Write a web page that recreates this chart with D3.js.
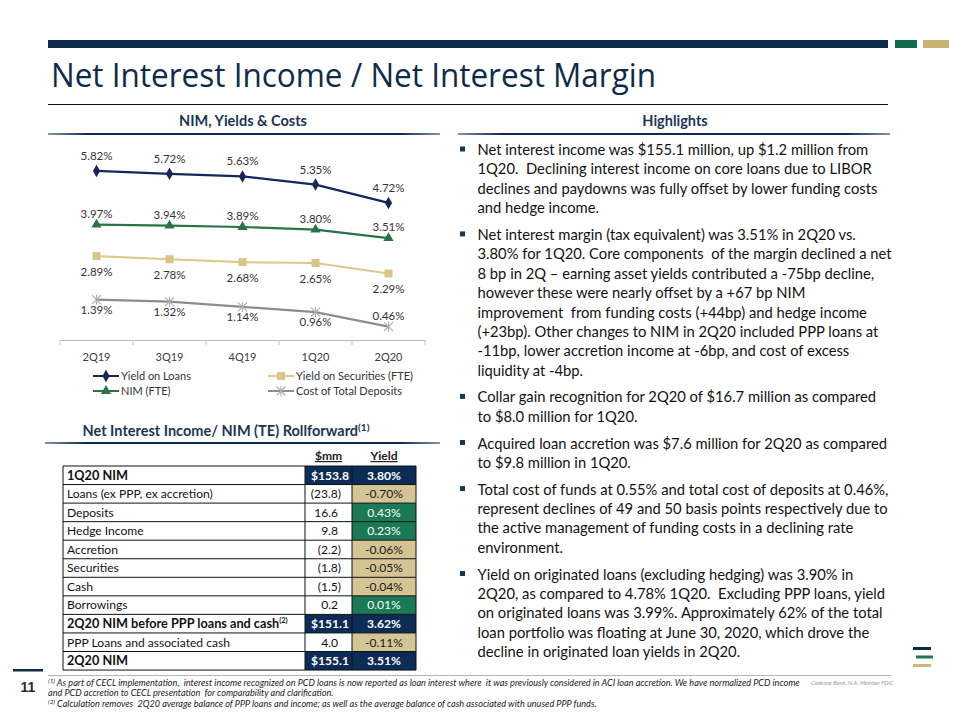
<!DOCTYPE html>
<html><head><meta charset="utf-8">
<script src="https://cdn.jsdelivr.net/npm/d3@7"></script>
<style>body{margin:0;background:#fff} svg{display:block} text{white-space:pre}</style>
</head><body>
<script>
// ---------- DATA ----------
const quarters = ["2Q19", "3Q19", "4Q19", "1Q20", "2Q20"];
const yieldOnLoans = [5.82, 5.72, 5.63, 5.35, 4.72];
const nimFTE = [3.97, 3.94, 3.89, 3.80, 3.51];
const yieldOnSecurities = [2.89, 2.78, 2.68, 2.65, 2.29];
const costOfDeposits = [1.39, 1.32, 1.14, 0.96, 0.46];
const seriesNames = ["Yield on Loans", "NIM (FTE)", "Yield on Securities (FTE)", "Cost of Total Deposits"];

const rollLabels = ["1Q20 NIM", "Loans (ex PPP, ex accretion)", "Deposits", "Hedge Income", "Accretion",
  "Securities", "Cash", "Borrowings", "2Q20 NIM before PPP loans and cash", "PPP Loans and associated cash", "2Q20 NIM"];
const rollMM = [153.8, -23.8, 16.6, 9.8, -2.2, -1.8, -1.5, 0.2, 151.1, 4.0, 155.1];
const rollYield = [3.80, -0.70, 0.43, 0.23, -0.06, -0.05, -0.04, 0.01, 3.62, -0.11, 3.51];
const rollTotals = [true, false, false, false, false, false, false, false, true, false, true];
const rollHeaders = ["$mm", "Yield"];

const highlights = [
  ["Net interest income was $155.1 million, up $1.2 million from",
   "1Q20.  Declining interest income on core loans due to LIBOR",
   "declines and paydowns was fully offset by lower funding costs",
   "and hedge income."],
  ["Net interest margin (tax equivalent) was 3.51% in 2Q20 vs.",
   "3.80% for 1Q20. Core components  of the margin declined a net",
   "8 bp in 2Q – earning asset yields contributed a -75bp decline,",
   "however these were nearly offset by a +67 bp NIM",
   "improvement  from funding costs (+44bp) and hedge income",
   "(+23bp). Other changes to NIM in 2Q20 included PPP loans at",
   "-11bp, lower accretion income at -6bp, and cost of excess",
   "liquidity at -4bp."],
  ["Collar gain recognition for 2Q20 of $16.7 million as compared",
   "to $8.0 million for 1Q20."],
  ["Acquired loan accretion was $7.6 million for 2Q20 as compared",
   "to $9.8 million in 1Q20."],
  ["Total cost of funds at 0.55% and total cost of deposits at 0.46%,",
   "represent declines of 49 and 50 basis points respectively due to",
   "the active management of funding costs in a declining rate",
   "environment."],
  ["Yield on originated loans (excluding hedging) was 3.90% in",
   "2Q20, as compared to 4.78% 1Q20.  Excluding PPP loans, yield",
   "on originated loans was 3.99%. Approximately 62% of the total",
   "loan portfolio was floating at June 30, 2020, which drove the",
   "decline in originated loan yields in 2Q20."]
];
const footnotes = [
  ["(1)", " As part of CECL implementation,  interest income recognized on PCD loans is now reported as loan interest where  it was previously considered in ACI loan accretion. We have normalized PCD income"],
  ["", "and PCD accretion to CECL presentation  for comparability and clarification."],
  ["(2)", " Calculation removes  2Q20 average balance of PPP loans and income; as well as the average balance of cash associated with unused PPP funds."]
];

// ---------- STYLE ----------
const NAVY = "#0c2c56", GREEN = "#1a7a55", TAN = "#d6c594";
const BODY = "Lato, 'Open Sans', sans-serif";

const svg = d3.select("body").append("svg").attr("width", 960).attr("height", 720);

function fitSize(text, family, weight, style, target, base) {
  const t = svg.append("text").attr("font-family", family).attr("font-weight", weight)
    .attr("font-style", style).attr("font-size", base).text(text);
  const w = t.node().getComputedTextLength();
  t.remove();
  return base * target / w;
}

// ---------- HEADER ----------
svg.append("rect").attr("x", 48).attr("y", 40).attr("width", 840).attr("height", 8).attr("fill", "#0d2b4b");
svg.append("rect").attr("x", 895).attr("y", 40).attr("width", 22).attr("height", 8).attr("fill", "#0f6a4e");
svg.append("rect").attr("x", 923).attr("y", 40).attr("width", 26).attr("height", 8).attr("fill", "#c8b370");
svg.append("text").attr("x", 51).attr("y", 87).attr("font-family", "'Open Sans', sans-serif")
  .attr("font-size", 33).attr("fill", "#0d2b4b").attr("textLength", 605).attr("lengthAdjust", "spacingAndGlyphs")
  .text("Net Interest Income / Net Interest Margin");
svg.append("line").attr("x1", 48).attr("x2", 888).attr("y1", 104.5).attr("y2", 104.5).attr("stroke", "#111").attr("stroke-width", 1);

// section headers
const grad = svg.append("defs").append("linearGradient").attr("id", "ul");
grad.append("stop").attr("offset", "0%").attr("stop-color", NAVY).attr("stop-opacity", 0.5);
grad.append("stop").attr("offset", "10%").attr("stop-color", NAVY).attr("stop-opacity", 1);
grad.append("stop").attr("offset", "90%").attr("stop-color", NAVY).attr("stop-opacity", 1);
grad.append("stop").attr("offset", "100%").attr("stop-color", NAVY).attr("stop-opacity", 0.5);
function sectionHeader(txt, cx, y, x1, x2, ly, sup) {
  const t = svg.append("text").attr("x", cx).attr("y", y).attr("text-anchor", "middle")
    .attr("font-family", BODY).attr("font-weight", 700).attr("font-size", 14.5).attr("fill", "#1b3555").text(txt);
  if (sup) t.append("tspan").attr("font-size", 10).attr("dy", -5).text(sup);
  svg.append("rect").attr("x", x1).attr("y", ly).attr("width", x2 - x1).attr("height", 2).attr("fill", "url(#ul)");
}
sectionHeader("NIM, Yields & Costs", 243, 126, 48, 440, 133);
sectionHeader("Highlights", 675, 126, 458, 890, 133);
sectionHeader("Net Interest Income/ NIM (TE) Rollforward", 226, 436, 45, 440, 442, "(1)");

// ---------- LINE CHART ----------
const x = d3.scaleBand().domain(quarters).range([60, 425]);
const y = d3.scaleLinear().domain([0, 7]).range([340, 340 - 7 * 29.05]);
const cx = q => x(q) + x.bandwidth() / 2;

const axisG = svg.append("g").attr("transform", "translate(0,340)")
  .call(d3.axisBottom(x).tickSize(0).tickPadding(13));
axisG.select(".domain").attr("stroke", "#bfbfbf");
axisG.selectAll("text").attr("font-family", BODY).attr("font-size", 11).attr("fill", "#404040");
axisG.selectAll(".btick").data(d3.range(quarters.length + 1)).join("line")
  .attr("x1", i => 60 + i * x.step()).attr("x2", i => 60 + i * x.step())
  .attr("y1", 0).attr("y2", 5).attr("stroke", "#bfbfbf");

const series = [
  { name: seriesNames[0], vals: yieldOnLoans, color: "#13275a", mcolor: "#13275a", marker: "diamond", pos: () => "above" },
  { name: seriesNames[1], vals: nimFTE, color: "#2a7348", mcolor: "#2a7348", marker: "triangle", pos: () => "above" },
  { name: seriesNames[2], vals: yieldOnSecurities, color: "#dccb8e", mcolor: "#d8c587", marker: "square", pos: () => "below" },
  { name: seriesNames[3], vals: costOfDeposits, color: "#8d8d8d", mcolor: "#b0b0b0", marker: "star",
    pos: (i, n) => i === n - 1 ? "above" : "below" }
];

function drawMarker(g, type, color, mx, my) {
  if (type === "diamond") {
    g.append("path").attr("d", d3.symbol(d3.symbolDiamond, 45)()).attr("transform", `translate(${mx},${my})`).attr("fill", color);
  } else if (type === "triangle") {
    g.append("path").attr("d", d3.symbol(d3.symbolTriangle, 45)()).attr("transform", `translate(${mx},${my})`).attr("fill", color);
  } else if (type === "square") {
    g.append("rect").attr("x", mx - 4).attr("y", my - 4).attr("width", 8).attr("height", 8).attr("fill", color);
  } else {
    const s = 4.5;
    const p = `M${mx - s},${my - s}L${mx + s},${my + s}M${mx - s},${my + s}L${mx + s},${my - s}M${mx},${my - s - 0.5}L${mx},${my + s + 0.5}`;
    g.append("path").attr("d", p).attr("stroke", color).attr("stroke-width", 1.2).attr("fill", "none");
  }
}

const line = d3.line().x((d, i) => cx(quarters[i])).y(d => y(d));
series.forEach(s => {
  const g = svg.append("g");
  g.append("path").datum(s.vals).attr("d", line).attr("fill", "none").attr("stroke", s.color).attr("stroke-width", 2.2);
  s.vals.forEach((v, i) => drawMarker(g, s.marker, s.mcolor, cx(quarters[i]), y(v)));
  g.selectAll("text.lbl").data(s.vals).join("text").attr("class", "lbl")
    .attr("x", (d, i) => cx(quarters[i]))
    .attr("y", (d, i) => y(d) + (s.pos(i, s.vals.length) === "above" ? (s.marker === "diamond" ? -11 : -7) : (s.marker === "square" ? 20 : 14)))
    .attr("text-anchor", "middle").attr("font-family", BODY).attr("font-size", 11.5).attr("fill", "#333")
    .text(d => d.toFixed(2) + "%");
});

// legend
const legendPos = [[93, 376], [93, 391], [268, 376], [268, 391]];
series.forEach((s, i) => {
  const [lx, ly] = legendPos[i];
  const g = svg.append("g");
  g.append("line").attr("x1", lx).attr("x2", lx + 26).attr("y1", ly).attr("y2", ly).attr("stroke", s.color).attr("stroke-width", 2);
  drawMarker(g, s.marker, s.mcolor, lx + 13, ly);
  g.append("text").attr("x", lx + 28).attr("y", ly + 4).attr("font-family", BODY).attr("font-size", 11).attr("fill", "#333").text(s.name);
});

// ---------- TABLE ----------
const colX = [63, 305, 352, 416];
const rowTop = 466, rowH = 18.55;
const tfs = fitSize("Loans (ex PPP, ex accretion)", BODY, 400, "normal", 146, 13);
const tg = svg.append("g");
rollHeaders.forEach((h, i) => {
  tg.append("text").attr("x", (colX[i + 1] + colX[i + 2]) / 2).attr("y", 460).attr("text-anchor", "middle")
    .attr("font-family", BODY).attr("font-weight", 700).attr("font-size", tfs).attr("fill", "#222")
    .attr("text-decoration", "underline").text(h);
});
rollLabels.forEach((lab, i) => {
  const top = rowTop + i * rowH, tot = rollTotals[i];
  if (tot) {
    tg.append("rect").attr("x", colX[1]).attr("y", top).attr("width", colX[3] - colX[1]).attr("height", rowH).attr("fill", NAVY);
  } else {
    tg.append("rect").attr("x", colX[2]).attr("y", top).attr("width", colX[3] - colX[2]).attr("height", rowH)
      .attr("fill", rollYield[i] < 0 ? TAN : GREEN);
  }
  const base = top + rowH / 2 + tfs * 0.36;
  const lt = tg.append("text").attr("x", colX[0] + 4).attr("y", base).attr("font-family", BODY)
    .attr("font-weight", tot ? 700 : 400).attr("font-size", tot ? tfs * 1.05 : tfs).attr("fill", "#111").text(lab);
  if (i === 8) lt.append("tspan").attr("font-size", tfs * 0.62).attr("dy", -5).text("(2)");
  const v = rollMM[i];
  let vt;
  if (tot) vt = "$" + v.toFixed(1);
  else vt = v < 0 ? "(" + Math.abs(v).toFixed(1) + ")" : v.toFixed(1);
  tg.append("text").attr("x", tot ? colX[2] - 3 : (v < 0 ? colX[2] - 11 : colX[2] - 14)).attr("y", base)
    .attr("text-anchor", "end").attr("font-family", BODY).attr("font-weight", tot ? 700 : 400)
    .attr("font-size", tfs).attr("fill", tot ? "#fff" : "#111").text(vt);
  const yv = rollYield[i];
  tg.append("text").attr("x", (colX[2] + colX[3]) / 2).attr("y", base).attr("text-anchor", "middle")
    .attr("font-family", BODY).attr("font-weight", tot ? 700 : 400).attr("font-size", tfs)
    .attr("fill", tot ? "#fff" : (yv < 0 ? "#1a1a1a" : "#fff")).text(yv.toFixed(2) + "%");
});
d3.range(rollLabels.length + 1).forEach(i => {
  tg.append("line").attr("x1", colX[0]).attr("x2", colX[3]).attr("y1", rowTop + i * rowH).attr("y2", rowTop + i * rowH)
    .attr("stroke", "#111").attr("stroke-width", 1);
});
colX.forEach(cxv => {
  tg.append("line").attr("x1", cxv).attr("x2", cxv).attr("y1", rowTop).attr("y2", rowTop + rollLabels.length * rowH)
    .attr("stroke", "#111").attr("stroke-width", 1);
});

// ---------- HIGHLIGHTS ----------
const hfs = fitSize(highlights[0][0], BODY, 400, "normal", 391, 14);
let by = 155;
highlights.forEach(par => {
  svg.append("rect").attr("x", 460).attr("y", by - 8.5).attr("width", 5).attr("height", 5).attr("fill", "#1b3555");
  par.forEach(ln => {
    svg.append("text").attr("x", 477.5).attr("y", by).attr("font-family", BODY).attr("font-size", hfs)
      .attr("fill", "#111").text(ln);
    by += 19.4;
  });
  by += 7.3;
});

// ---------- FOOTER ----------
svg.append("line").attr("x1", 48).attr("x2", 891).attr("y1", 675.5).attr("y2", 675.5).attr("stroke", "#b5b5b5").attr("stroke-width", 1);
svg.append("rect").attr("x", 13).attr("y", 669).attr("width", 30).attr("height", 2.5).attr("fill", "#0d2b4b");
svg.append("text").attr("x", 28).attr("y", 692).attr("text-anchor", "middle").attr("font-family", "'Liberation Sans', Arial, sans-serif")
  .attr("font-weight", 700).attr("font-size", 14).attr("fill", "#1b2a3c").text("11");
const ffs = fitSize(footnotes[0][1], BODY, 400, "italic", 746, 8);
footnotes.forEach((f, i) => {
  const t = svg.append("text").attr("x", 48).attr("y", 686 + i * 10.3).attr("font-family", BODY)
    .attr("font-style", "italic").attr("font-size", ffs).attr("fill", "#222");
  if (f[0]) t.append("tspan").attr("font-size", ffs * 0.7).attr("dy", -3).text(f[0]);
  t.append("tspan").attr("dy", f[0] ? 3 : 0).text(f[1]);
});
svg.append("text").attr("x", 811).attr("y", 685).attr("font-family", BODY).attr("font-style", "italic")
  .attr("font-size", 5.8).attr("fill", "#9a9a9a").text("Cadence Bank, N.A. Member FDIC");
// logo
svg.append("rect").attr("x", 913).attr("y", 647).attr("width", 18).attr("height", 3).attr("fill", "#0d2b4b");
svg.append("rect").attr("x", 916).attr("y", 655.5).attr("width", 17).attr("height", 3).attr("fill", "#1a7a55");
svg.append("rect").attr("x", 913).attr("y", 664).attr("width", 18).attr("height", 3).attr("fill", "#cdb877");
</script>
</body></html>
